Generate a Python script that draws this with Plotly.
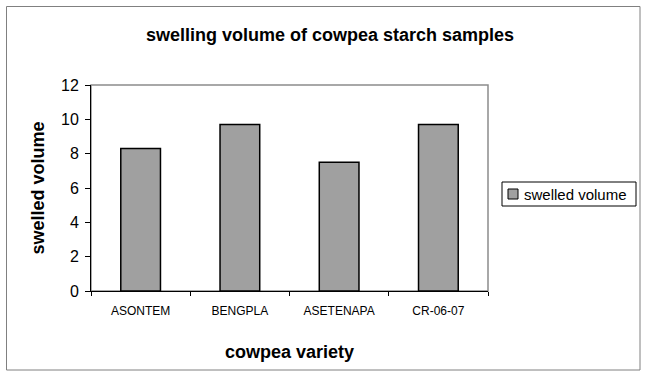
import plotly.graph_objects as go

categories = ["ASONTEM", "BENGPLA", "ASETENAPA", "CR-06-07"]
swelled_volume = [8.3, 9.7, 7.5, 9.7]
series_name = "swelled volume"
bar_color = "#a0a0a0"

W, H = 647, 378
L, R, T, B = 91, 159, 85, 87
pw, ph = W - L - R, H - T - B


def px_x(p):
    return (p - L) / pw


def px_y(p):
    return (H - B - p) / ph


fig = go.Figure()
fig.add_trace(go.Bar(
    x=categories, y=swelled_volume, name=series_name,
    marker=dict(color=bar_color, line=dict(color="black", width=1.5)),
    showlegend=False,
))

font = "Liberation Sans, Arial, sans-serif"
fig.update_layout(
    width=W, height=H,
    margin=dict(l=L, r=R, t=T, b=B, pad=0),
    paper_bgcolor="white", plot_bgcolor="white",
    font=dict(family=font, color="black"),
    bargap=0.6,
    title=dict(text="<b>swelling volume of cowpea starch samples</b>",
               x=px_x(330), xref="paper", xanchor="center",
               y=1 - 35 / H, yanchor="middle",
               font=dict(size=18, family=font, color="black")),
    xaxis=dict(
        showline=True, linecolor="black", linewidth=1,
        ticks="outside", tickson="boundaries", ticklen=4, tickcolor="black",
        tickfont=dict(size=12, color="black"), ticklabelstandoff=9,
        title=dict(text="<b>cowpea variety</b>", font=dict(size=18), standoff=27),
        showgrid=False, zeroline=False,
    ),
    yaxis=dict(
        range=[0, 12], dtick=2,
        showline=True, linecolor="black", linewidth=1,
        ticks="outside", ticklen=5, tickcolor="black",
        tickfont=dict(size=16, color="black"), ticklabelstandoff=3,
        title=dict(text="<b>swelled volume</b>", font=dict(size=18), standoff=11),
        showgrid=False, zeroline=False,
    ),
    shapes=[
        # plot area frame
        dict(type="rect", xref="paper", yref="paper",
             x0=0, x1=1, y0=0, y1=1,
             line=dict(color="#8c8c8c", width=1.5), layer="below"),
        # chart outer frame
        dict(type="rect", xref="paper", yref="paper",
             x0=px_x(6.5), x1=px_x(640), y0=px_y(370), y1=px_y(6.5),
             line=dict(color="#808080", width=1), layer="below"),
        # legend box
        dict(type="rect", xref="paper", yref="paper",
             x0=px_x(502), x1=px_x(636), y0=px_y(206), y1=px_y(182),
             line=dict(color="black", width=1), fillcolor="white", layer="above"),
        # legend swatch
        dict(type="rect", xref="paper", yref="paper",
             x0=px_x(508), x1=px_x(518), y0=px_y(199), y1=px_y(189),
             line=dict(color="black", width=1), fillcolor=bar_color, layer="above"),
    ],
    annotations=[
        dict(text=series_name, xref="paper", yref="paper",
             x=px_x(522), y=px_y(194), xanchor="left", yanchor="middle",
             showarrow=False, font=dict(size=15, color="black")),
    ],
)

fig.write_html("out.html", config={"displayModeBar": False},
               post_script="document.body.style.margin='0px';")
